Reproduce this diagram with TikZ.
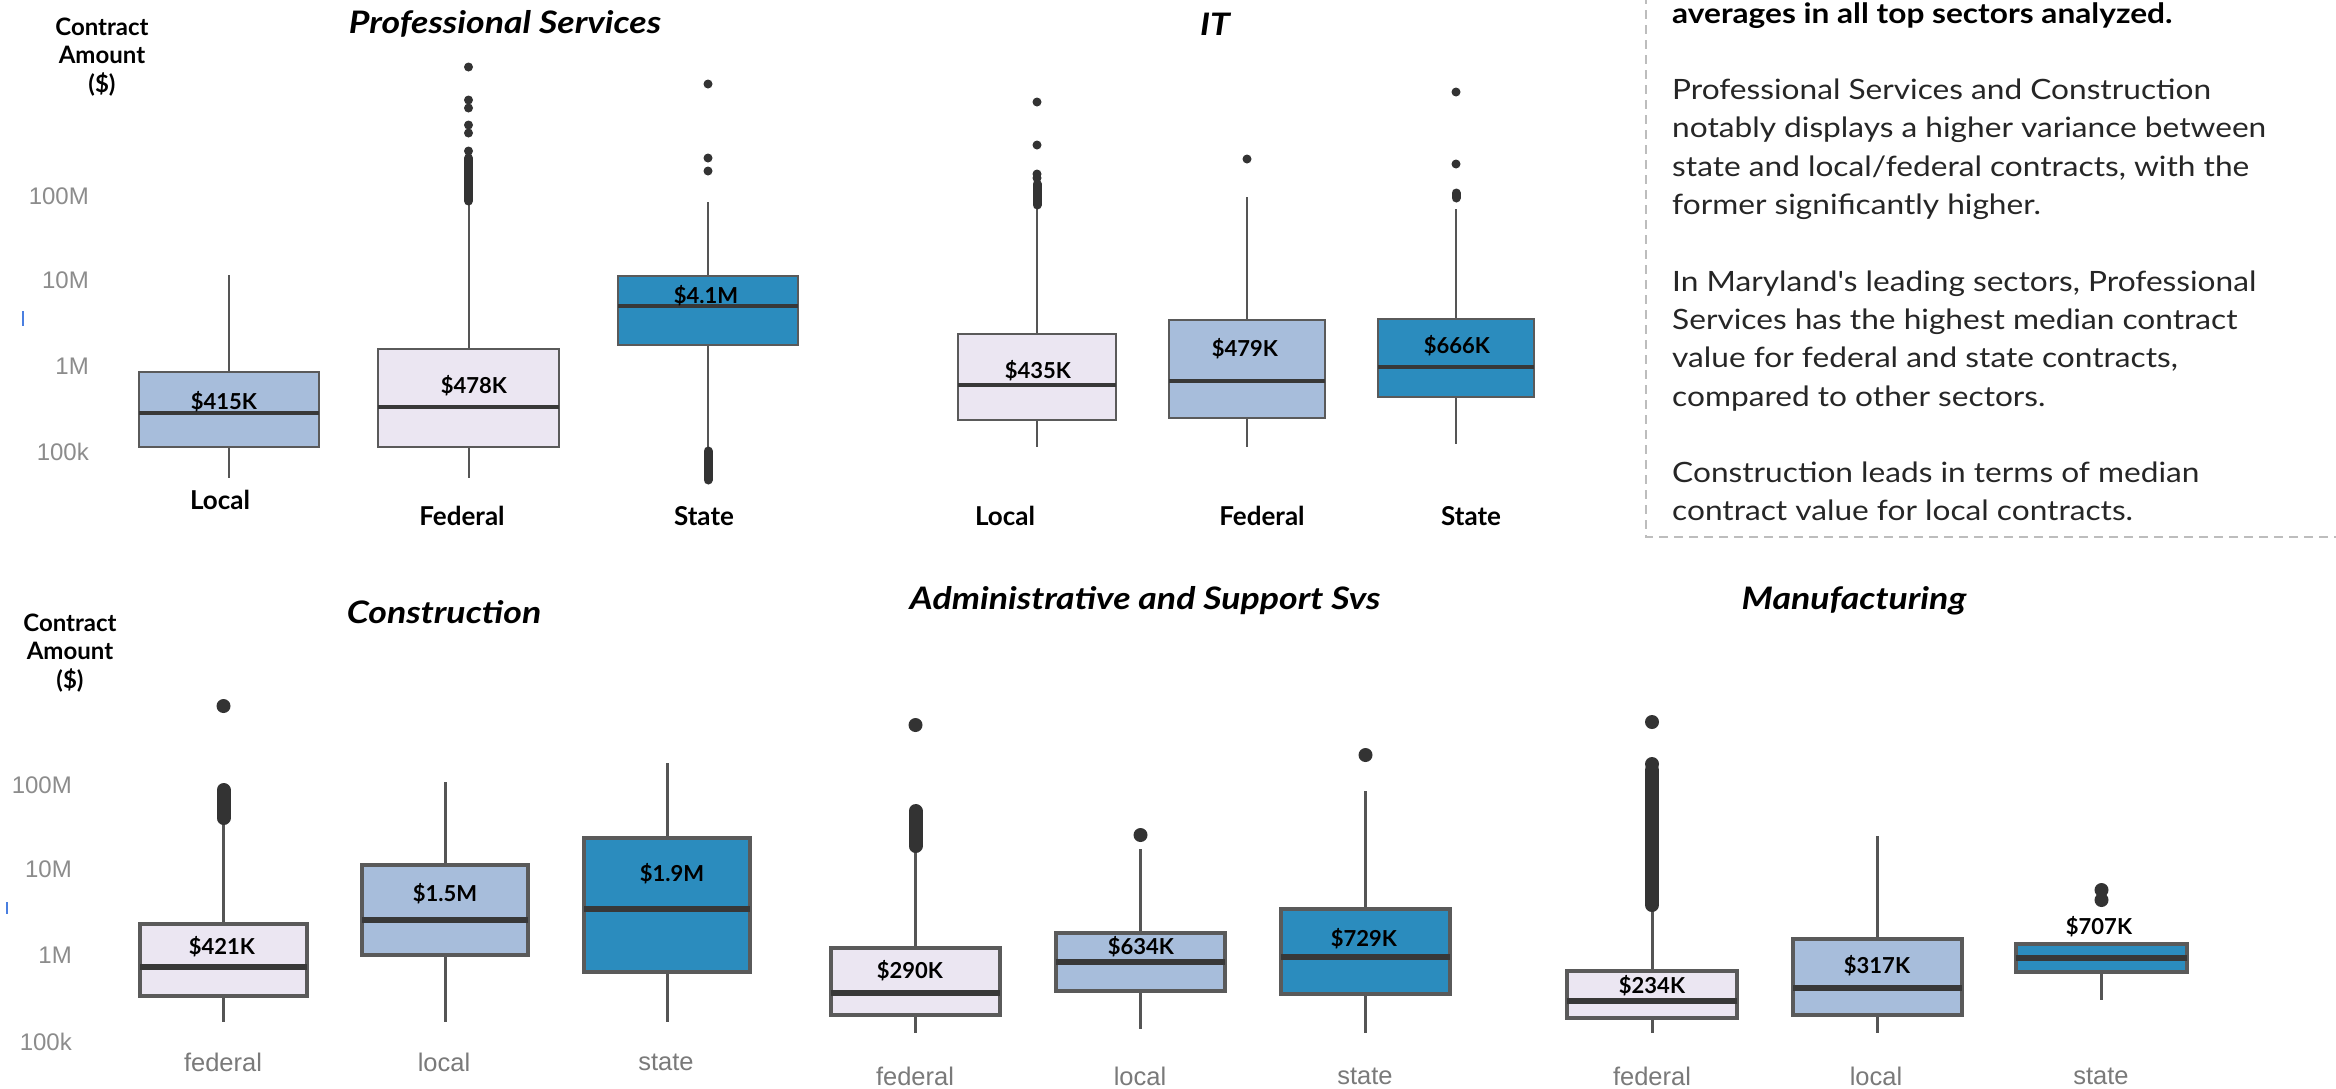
\documentclass[tikz,border=0pt]{standalone}
\usepackage{graphicx}
\usepackage{fontspec}
\setmainfont{Lato}
\newfontfamily\arialf{Liberation Sans}
\newfontfamily\plainf{Lato}[Ligatures=TeXOff]
\definecolor{lav}{HTML}{EBE6F2}
\definecolor{lbl}{HTML}{A7BDDB}
\definecolor{dbl}{HTML}{2B8CBE}
\definecolor{edgec}{HTML}{5A5A5A}
\definecolor{whc}{HTML}{555555}
\definecolor{medc}{HTML}{383838}
\definecolor{dotc}{HTML}{333333}
\definecolor{tickc}{HTML}{8C8C8C}
\definecolor{xgray}{HTML}{7A7A7A}
\definecolor{dashc}{HTML}{BDBDBD}
\definecolor{bluemark}{HTML}{4A7FE0}
\definecolor{bodyc}{HTML}{262626}
\newcommand{\bxp}[8]{%
  \pgfmathsetmacro{\bxc}{(#1+#2)/2}%
  \draw[whisk] (\bxc,#6) -- (\bxc,#3);
  \draw[whisk] (\bxc,#4) -- (\bxc,#7);
  \filldraw[boxe,fill=#8] (#1,#3) rectangle (#2,#4);
  \draw[medl] (#1,#5) -- (#2,#5);
}
\newcommand{\outl}[2]{\fill[dotc] (#1,#2) circle (\dotr);}
\newcommand{\outc}[3]{\draw[dotc, line width=2*\dotr, line cap=round] (#1,#2) -- (#1,#3);}
\newcommand{\bodyw}[1]{\scalebox{1.13}[1]{#1}}
\newcommand{\ttlw}[1]{\scalebox{1.15}[1]{#1}}
\begin{document}
\begin{tikzpicture}[x=1pt,y=-1pt,
  whisk/.style={whc, line width=2},
  boxe/.style={edgec, line width=2.5},
  medl/.style={medc, line width=4},
  ttl/.style={font=\fontsize{31}{36}\selectfont\bfseries\itshape, inner sep=0},
  blab/.style={font=\fontsize{22}{26}\selectfont\bfseries, inner sep=0},
  xlabT/.style={font=\fontsize{26}{30}\selectfont\bfseries, inner sep=0},
  xlabB/.style={font=\arialf\fontsize{25.5}{30}\selectfont, text=xgray, inner sep=0},
  ytk/.style={font=\arialf\fontsize{24}{28}\selectfont, text=tickc, anchor=east, inner sep=0},
  ylab/.style={font=\fontsize{24}{28.5}\selectfont\bfseries, align=center, inner sep=0},
  body/.style={font=\fontsize{28}{38}\selectfont, text=bodyc, anchor=base west, inner sep=0},
]
\useasboundingbox (0,0) rectangle (2336,1088);
\fill[white] (0,0) rectangle (2336,1088);
\clip (0,0) rectangle (2336,1088);

% ---------- axis captions ----------
\node[ylab] (yt) at (102,57) {Contract\\Amount\\(\$)};
\node[ylab] (yb) at (70,653) {Contract\\Amount\\(\$)};
\node[ytk] (t1) at (89,196) {100M};
\node[ytk] (t2) at (89,280) {10M};
\node[ytk] (t3) at (89,366) {1M};
\node[ytk] (t4) at (89,452) {100k};
\node[ytk] (b1) at (72,785) {100M};
\node[ytk] (b2) at (72,869) {10M};
\node[ytk] (b3) at (72,955) {1M};
\node[ytk] (b4) at (72,1042) {100k};
\draw[bluemark, line width=1.5] (23,311) -- (23,326);
\draw[bluemark, line width=1.5] (7,902) -- (7,914);

% ---------- titles ----------
\node[ttl] (tps) at (505,24) {\ttlw{Professional Services}};
\node[ttl] (tit) at (1215,24) {\ttlw{IT}};
\node[ttl] (tcon) at (444,612) {\ttlw{Construction}};
\node[ttl] (tadm) at (1145,601) {\ttlw{Administrative and Support Svs}};
\node[ttl] (tman) at (1854,601) {\ttlw{Manufacturing}};

% ---------- top row ----------
\def\dotr{4.5}
% Professional services
\bxp{139}{319}{372}{447}{413}{275}{478}{lbl}
\bxp{378}{559}{349}{447}{407}{203}{478}{lav}
\outl{468.5}{67}\outl{468.5}{100}\outl{468.5}{108}\outl{468.5}{125}\outl{468.5}{133}\outl{468.5}{151}
\outc{468.5}{158}{201}
\bxp{618}{798}{276}{345}{306}{202}{447}{dbl}
\outl{708}{84}\outl{708}{158}\outl{708}{171}
\outc{708}{451}{480}
% IT
\bxp{958}{1116}{334}{420}{385}{206}{447}{lav}
\outl{1037}{102}\outl{1037}{145}\outl{1037}{174}\outl{1037}{178}
\outc{1037}{184}{205}
\bxp{1169}{1325}{320}{418}{381}{197}{447}{lbl}
\outl{1247}{159}
\bxp{1378}{1534}{319}{397}{367}{209}{444}{dbl}
\outl{1456}{92}\outl{1456}{164}\outc{1456}{193}{198}

\node[blab] (l1) at (224,402) {\$415K};
\node[blab] (l2) at (474,386) {\$478K};
\node[blab] (l3) at (706,296) {\$4.1M};
\node[blab] (l4) at (1038,371) {\$435K};
\node[blab] (l5) at (1245,349) {\$479K};
\node[blab] (l6) at (1457,346) {\$666K};

\node[xlabT] (x1) at (220,500) {Local};
\node[xlabT] (x2) at (462,516) {Federal};
\node[xlabT] (x3) at (704,516) {State};
\node[xlabT] (x4) at (1005,516) {Local};
\node[xlabT] (x5) at (1262,516) {Federal};
\node[xlabT] (x6) at (1471,516) {State};

% ---------- bottom row ----------
\begin{scope}[whisk/.style={whc, line width=3},
  boxe/.style={edgec, line width=3.5},
  medl/.style={medc, line width=5.5}]
\def\dotr{7}
% Construction
\bxp{140}{307}{924}{996}{967}{820}{1022}{lav}
\outl{223.5}{706}\outc{223.5}{790}{818}
\bxp{362}{528}{865}{955}{920}{782}{1022}{lbl}
\bxp{584}{750}{838}{972}{909}{763}{1022}{dbl}
% Administrative
\bxp{831}{1000}{948}{1015}{993}{848}{1033}{lav}
\outl{915.5}{725}\outc{915.5}{811}{846}
\bxp{1056}{1225}{933}{991}{962}{849}{1029}{lbl}
\outl{1140.5}{835}
\bxp{1281}{1450}{909}{994}{957}{791}{1033}{dbl}
\outl{1365.5}{755}
% Manufacturing
\bxp{1567}{1737}{971}{1018}{1001}{907}{1033}{lav}
\outl{1652}{722}\outl{1652}{764}\outc{1652}{770}{905}
\bxp{1793}{1962}{939}{1015}{988}{836}{1033}{lbl}
\bxp{2016}{2187}{944}{972}{958}{944}{1000}{dbl}
\outl{2101.5}{890}\outl{2101.5}{900}
\end{scope}

\node[blab] (m1) at (222,947) {\$421K};
\node[blab] (m2) at (445,894) {\$1.5M};
\node[blab] (m3) at (672,874) {\$1.9M};
\node[blab] (m4) at (910,971) {\$290K};
\node[blab] (m5) at (1141,947) {\$634K};
\node[blab] (m6) at (1364,939) {\$729K};
\node[blab] (m7) at (1652,986) {\$234K};
\node[blab] (m8) at (1877,966) {\$317K};
\node[blab] (m9) at (2099,927) {\$707K};

\node[xlabB] (y1) at (223,1062) {federal};
\node[xlabB] (y2) at (444,1062) {local};
\node[xlabB] (y3) at (666,1062) {state};
\node[xlabB] (y4) at (915,1076) {federal};
\node[xlabB] (y5) at (1140,1076) {local};
\node[xlabB] (y6) at (1365,1076) {state};
\node[xlabB] (y7) at (1652,1076) {federal};
\node[xlabB] (y8) at (1876,1076) {local};
\node[xlabB] (y9) at (2101,1076) {state};

% ---------- notes box ----------
\draw[dashc, line width=1.5, dash pattern=on 9pt off 6pt] (1646,-5) -- (1646,537) -- (2345,537);
\node[body, font=\fontsize{28}{38}\selectfont\bfseries, text=black] (n0) at (1672,23) {\bodyw{averages in all top sectors analyzed.}};
\node[body] (n1) at (1672,99.6) {\bodyw{Professional Services and Construction}};
\node[body] (n2) at (1672,137.9) {\bodyw{notably displays a higher variance between}};
\node[body] (n3) at (1672,176.2) {\bodyw{state and local/federal contracts, with the}};
\node[body] (n4) at (1672,214.5) {\bodyw{former significantly higher.}};
\node[body] (n5) at (1672,291.1) {\bodyw{\plainf In Maryland's leading sectors, Professional}};
\node[body] (n6) at (1672,329.4) {\bodyw{Services has the highest median contract}};
\node[body] (n7) at (1672,367.7) {\bodyw{value for federal and state contracts,}};
\node[body] (n8) at (1672,406) {\bodyw{compared to other sectors.}};
\node[body] (n9) at (1672,482.6) {\bodyw{Construction leads in terms of median}};
\node[body] (n10) at (1672,520.9) {\bodyw{contract value for local contracts.}};
\end{tikzpicture}
\end{document}
